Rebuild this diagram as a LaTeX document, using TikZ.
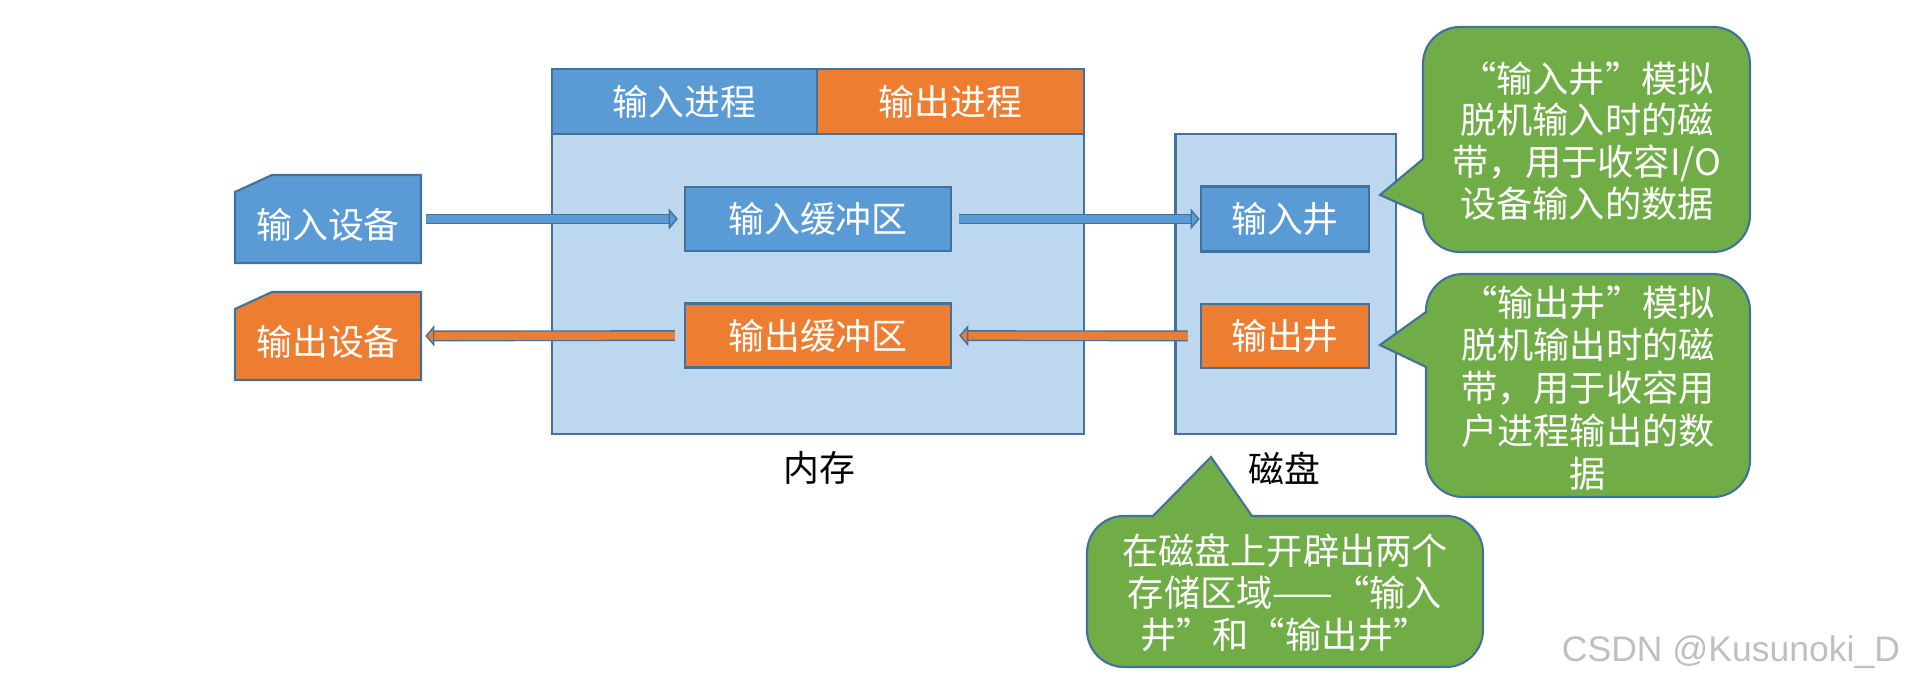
\documentclass[tikz,border=0pt]{standalone}
\usepackage{fontspec}
\setmainfont{Noto Sans CJK SC}
\newfontfamily\markfont{Liberation Sans}
\usetikzlibrary{arrows.meta}
\definecolor{bluefill}{HTML}{5B9BD5}
\definecolor{orangefill}{HTML}{ED7D31}
\definecolor{greenfill}{HTML}{70AD47}
\definecolor{areafill}{HTML}{BDD7EE}
\definecolor{edgeblue}{HTML}{41719C}
\tikzset{
  box/.style={draw=edgeblue, line width=0.6pt, text=white, inner sep=0pt},
  bluebox/.style={box, fill=bluefill},
  orangebox/.style={box, fill=orangefill},
  devshape/.style={draw=edgeblue, line width=0.6pt},
  devtext/.style={text=white, inner sep=0pt, minimum width=1.87cm, minimum height=0.88cm, text height=0.5cm, text depth=0.1cm},
  area/.style={draw=edgeblue, line width=0.6pt, fill=areafill, inner sep=0pt},
  bubble/.style={draw=edgeblue, line width=0.6pt, fill=greenfill},
  bubbletext/.style={text=white, align=center, inner sep=0pt, font=\fontsize{10.3}{11.9}\selectfont},
  corner/.style={radius=0.37cm},
  inflow/.style={draw=edgeblue, double=bluefill, double distance=2.3pt, line width=0.4pt, -{Triangle[open, fill=bluefill, length=2.6pt, width=6pt]}},
  outflow/.style={draw=edgeblue, double=orangefill, double distance=2.3pt, line width=0.4pt, -{Triangle[open, fill=orangefill, length=2.6pt, width=6pt]}}
}
\begin{document}
\begin{tikzpicture}[x=0.01cm, y=-0.01cm, font=\fontsize{10.2}{12}\selectfont]
  \useasboundingbox (0,0) rectangle (1905,683);
  % memory and disk
  \node[area, minimum width=5.32cm, minimum height=3cm] (memory) at (818,284) {};
  \node[area, minimum width=2.20cm, minimum height=3cm] (disk) at (1285.5,284) {};
  \node[bluebox, minimum width=2.65cm, minimum height=0.65cm] (inproc) at (684.5,101.5) {输入进程};
  \node[orangebox, minimum width=2.67cm, minimum height=0.65cm] (outproc) at (950.5,101.5) {输出进程};
  \node[bluebox, minimum width=2.66cm, minimum height=0.645cm] (inbuf) at (818,219) {输入缓冲区};
  \node[orangebox, minimum width=2.66cm, minimum height=0.64cm] (outbuf) at (818,335.5) {输出缓冲区};
  \node[bluebox, minimum width=1.685cm, minimum height=0.65cm] (inwell) at (1285,219) {输入井};
  \node[orangebox, minimum width=1.685cm, minimum height=0.64cm] (outwell) at (1285,336) {输出井};
  \draw[devshape, fill=bluefill] (235,192) -- (272,175) -- (421,175) -- (421,263) -- (235,263) -- cycle;
  \draw[devshape, fill=orangefill] (235,309) -- (272,292) -- (421,292) -- (421,380) -- (235,380) -- cycle;
  \node[devtext] (indev) at (328,219) {输入设备};
  \node[devtext] (outdev) at (328,336) {输出设备};
  \node (memlabel) at (819,468) {内存};
  \node (disklabel) at (1284,468) {磁盘};
  % arrows
  \draw[inflow, shorten <=0.04cm, shorten >=0.06cm] (indev) -- (inbuf);
  \draw[inflow, shorten <=0.07cm] (inbuf) -- (inwell);
  \draw[outflow, shorten <=0.12cm, shorten >=0.07cm] (outwell) -- (outbuf);
  \draw[outflow, shorten <=0.09cm, shorten >=0.03cm] (outbuf) -- (outdev);
  % callouts
  \draw[bubble, corner] (1423,159) -- (1380,195) -- (1423,214) -- (1423,215) arc[start angle=180, end angle=270] -- (1713,252) arc[start angle=270, end angle=360] -- (1750,64) arc[start angle=0, end angle=90] -- (1460,27) arc[start angle=90, end angle=180] -- cycle;
  \draw[bubble, corner] (1426,312) -- (1380,345) -- (1426,367) -- (1426,460) arc[start angle=180, end angle=270] -- (1713,497) arc[start angle=270, end angle=360] -- (1750,311) arc[start angle=0, end angle=90] -- (1463,274) arc[start angle=90, end angle=180] -- cycle;
  \draw[bubble, corner] (1153,516) -- (1211,457) -- (1252,516) -- (1446,516) arc[start angle=90, end angle=0] -- (1483,630) arc[start angle=360, end angle=270] -- (1124,667) arc[start angle=270, end angle=180] -- (1087,553) arc[start angle=180, end angle=90] -- cycle;
  \node[bubbletext] (intext) at (1587,141) {“输入井”模拟\\脱机输入时的磁\\带，用于收容I/O\\设备输入的数据};
  \node[bubbletext, font=\fontsize{10.3}{12.2}\selectfont] (outtext) at (1588,388) {“输出井”模拟\\脱机输出时的磁\\带，用于收容用\\户进程输出的数\\据};
  \node[bubbletext, font=\fontsize{10.3}{12}\selectfont] (disktext) at (1285,593) {在磁盘上开辟出两个\\存储区域——“输入\\井”和“输出井”};
  \node[text=black!25, font=\markfont\fontsize{10.1}{12}\selectfont, inner sep=0pt] (mark) at (1731,652) {CSDN @Kusunoki\_D};
\end{tikzpicture}
\end{document}
